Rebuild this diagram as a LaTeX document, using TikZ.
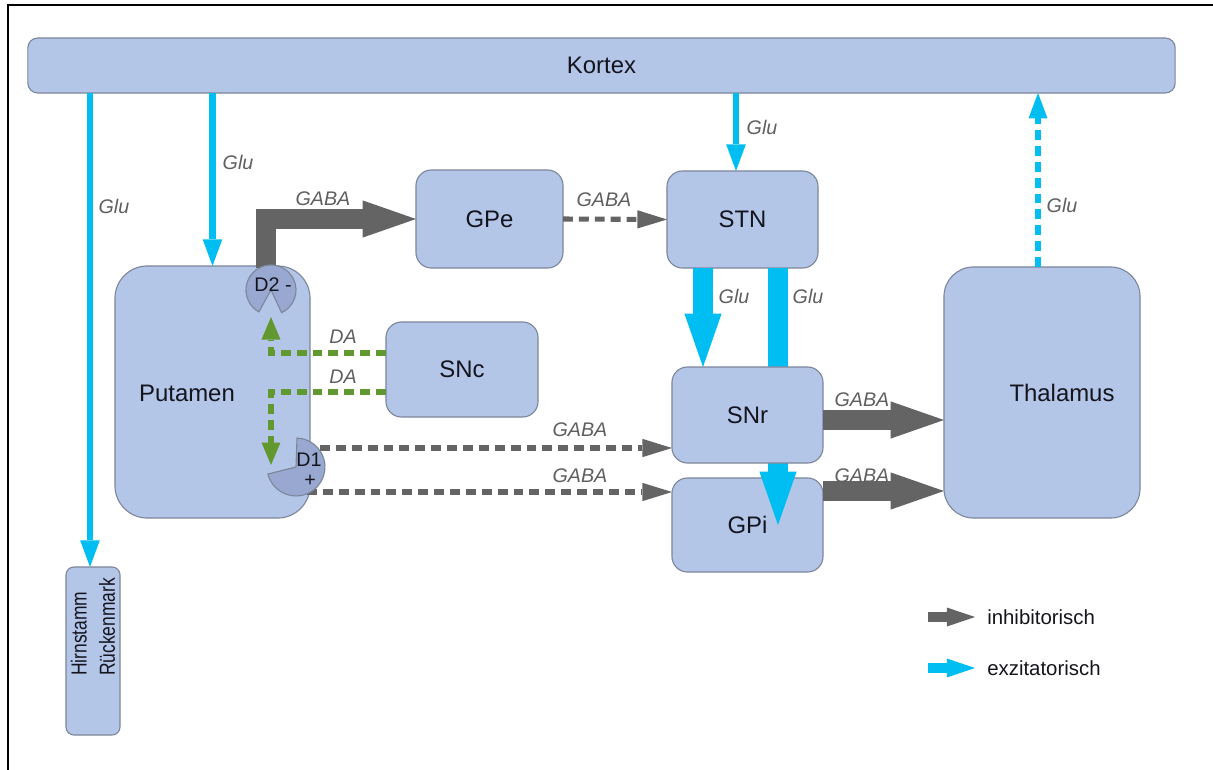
\documentclass[tikz,border=0pt]{standalone}
\usepackage{fontspec}
\setmainfont{Liberation Sans}
\usetikzlibrary{arrows.meta,calc}
\definecolor{boxfill}{RGB}{180,198,231}
\definecolor{boxline}{RGB}{125,135,155}
\definecolor{dfill}{RGB}{152,168,208}
\definecolor{inhgray}{RGB}{100,100,100}
\definecolor{excyan}{RGB}{0,190,242}
\definecolor{dagreen}{RGB}{98,152,48}
\definecolor{lblgray}{RGB}{95,95,95}
\definecolor{txt}{RGB}{20,20,30}
\begin{document}
\begin{tikzpicture}[x=0.025cm,y=-0.025cm,
 box/.style={draw=boxline, fill=boxfill, line width=0.8pt, inner sep=0pt, outer sep=0pt, text=txt, font=\fontsize{17}{20}\selectfont},
 btxt/.style={inner sep=0pt, text=txt, font=\fontsize{17}{20}\selectfont},
 lbl/.style={text=lblgray, font=\fontsize{14}{16}\selectfont\itshape, inner sep=0pt},
 legtxt/.style={anchor=west, inner sep=0pt, text=txt, font=\fontsize{14.5}{17}\selectfont},
 pac/.style={fill=dfill, draw=boxline, line width=0.8pt},
 gluthin/.style={draw=excyan, line width=4.3pt, -{Triangle[length=19pt,width=14pt,line width=0pt]}},
 gluthick/.style={draw=excyan, line width=14pt, -{Triangle[length=38pt,width=26.5pt,line width=0pt]}},
 gabathick/.style={draw=inhgray, line width=14pt, line join=miter, -{Triangle[length=38pt,width=26.5pt,line width=0pt]}},
 gabadash/.style={draw=inhgray, line width=3.6pt, dash pattern=on 7pt off 4.3pt, -{Triangle[length=21pt,width=13pt,line width=0pt]}},
 dadash/.style={draw=dagreen, line width=3.6pt, dash pattern=on 7pt off 4.3pt, -{Triangle[length=16pt,width=13.5pt,line width=0pt]}},
 gludash/.style={draw=excyan, line width=3.6pt, dash pattern=on 7pt off 4.3pt, -{Triangle[length=18pt,width=13.5pt,line width=0pt]}},
 leggray/.style={draw=inhgray, line width=7pt, -{Triangle[length=20pt,width=13.5pt,line width=0pt]}},
 legcyan/.style={draw=excyan, line width=7pt, -{Triangle[length=20pt,width=13.5pt,line width=0pt]}}
]
\useasboundingbox (0,0) rectangle (1213,770);
\fill[white] (0,0) rectangle (1213,770);
% frame
\draw[line width=1.8pt] (1213,5) -- (8,5) -- (8,770);

% helper x / y positions
\coordinate (xh) at (90,0);
\coordinate (xs) at (736,0);
\coordinate (xt) at (1038,0);
\coordinate (xa) at (703,0);
\coordinate (xb) at (778,0);
\coordinate (xd) at (271,0);
\coordinate (ya) at (0,420);
\coordinate (yb) at (0,491);
\coordinate (yc) at (0,353);
\coordinate (yd) at (0,392);

% boxes
\node[box, rounded corners=7pt, minimum width=28.675cm, minimum height=1.375cm] (kortex) at (601.5,65.5) {Kortex};
\node[box, rounded corners=5.7pt, rotate=90, minimum width=4.2cm, minimum height=1.35cm] (hirn) at (93,651) {};
\node[inner sep=0pt, text=txt, rotate=90, xscale=0.8, align=left, font=\fontsize{15.5}{20}\selectfont] (hirnlbl) at (93,627) {Hirnstamm\\Rückenmark};
\node[box, rounded corners=23pt, minimum width=4.875cm, minimum height=6.3cm] (putamen) at (212.5,392) {};
\node[btxt] (putamenlbl) at (187,393) {Putamen};
\node[box, rounded corners=11pt, minimum width=3.675cm, minimum height=2.45cm] (gpe) at (489.5,219) {GPe};
\node[box, rounded corners=11pt, minimum width=3.775cm, minimum height=2.425cm] (stn) at (742.5,219.5) {STN};
\node[box, rounded corners=11pt, minimum width=3.8cm, minimum height=2.375cm] (snc) at (462,369.5) {SNc};
\node[box, rounded corners=11pt, minimum width=3.775cm, minimum height=2.35cm] (gpi) at (747.5,525) {GPi};
\node[box, rounded corners=21pt, minimum width=4.9cm, minimum height=6.275cm] (thal) at (1042,392.5) {};
\node[btxt] (thallbl) at (1062,393) {Thalamus};

% cortex projections
\draw[gluthin] (kortex.south -| xh) -- (hirn.east -| xh);
\draw[gluthin] (kortex.south -| putamen.north) -- (putamen.north);
\draw[gluthin] (kortex.south -| xs) -- (stn.north -| xs);
\draw[gludash] (thal.north -| xt) -- (kortex.south -| xt);

% STN -> GPi (behind SNr)
\draw[gluthick] (stn.south -| xb) -- ($(gpi.north -| xb)+(0,47)$);
\node[box, rounded corners=11pt, minimum width=3.775cm, minimum height=2.4cm] (snr) at (747.5,415) {SNr};
\draw[gluthick] (stn.south -| xa) -- (snr.north -| xa);

% D2 pathway
\coordinate (d2) at (271,290);
\coordinate (d1) at (296,467);
\draw[gabathick] ($(d2)+(-5,-22)$) |- (gpe.west);
\draw[gabadash] (gpe.east) -- (stn.west);

% output to thalamus
\draw[gabathick] (snr.east |- ya) -- (thal.west |- ya);
\draw[gabathick] (gpi.east |- yb) -- (thal.west |- yb);

% dopamine
\draw[dadash] (snc.west |- yc) -- (xd |- yc) -- ($(d2 -| xd)+(0,27)$);
\draw[dadash] (snc.west |- yd) -- (xd |- yd) -- ($(d1 -| xd)+(0,-2)$);

% D1 pathway
\draw[gabadash] ($(d1)+(24,-19)$) -- (snr.west |- {$(d1)+(0,-19)$});
\draw[gabadash] ($(d1)+(11,25)$) -- (gpi.west |- {$(d1)+(0,25)$});

% receptors
\draw[pac] (d2) -- ++(-65:17.8pt) arc[start angle=-65, end angle=241, radius=17.8pt] -- cycle;
\node[btxt, font=\fontsize{14}{16}\selectfont] (d2lbl) at (273,285) {D2 -};
\draw[pac] (d1) -- ++(194:20.6pt) arc[start angle=194, end angle=448, radius=20.6pt] -- cycle;
\node[btxt, font=\fontsize{14}{16}\selectfont] (d1lbl) at (309,460) {D1};
\node[btxt, font=\fontsize{14}{16}\selectfont] (d1plus) at (310,481) {+};

% labels
\node[lbl] (l1) at (114,206) {Glu};
\node[lbl] (l2) at (238,162) {Glu};
\node[lbl] (l3) at (323,199) {GABA};
\node[lbl] (l4) at (604,200) {GABA};
\node[lbl] (l5) at (762,127) {Glu};
\node[lbl] (l6) at (734,296) {Glu};
\node[lbl] (l7) at (808,296) {Glu};
\node[lbl] (l8) at (1062,205) {Glu};
\node[lbl] (l9) at (343,337) {DA};
\node[lbl] (l10) at (343,377) {DA};
\node[lbl] (l11) at (580,430) {GABA};
\node[lbl] (l12) at (580,476) {GABA};
\node[lbl] (l13) at (862,400) {GABA};
\node[lbl] (l14) at (862,476) {GABA};

% legend
\node[legtxt] (leginh) at (987,617) {inhibitorisch};
\node[legtxt] (legexc) at (987,668) {exzitatorisch};
\draw[leggray] ($(leginh.west)+(-59,0)$) -- ($(leginh.west)+(-12,0)$);
\draw[legcyan] ($(legexc.west)+(-59,0)$) -- ($(legexc.west)+(-12,0)$);
\end{tikzpicture}
\end{document}
